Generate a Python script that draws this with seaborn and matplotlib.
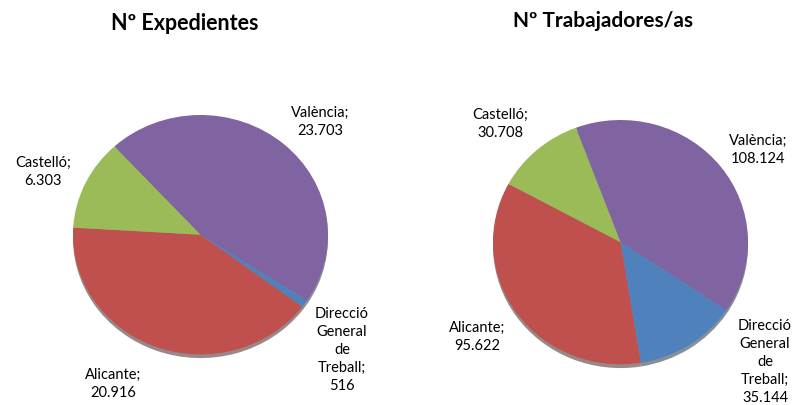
import numpy as np
import matplotlib
matplotlib.use("Agg")
import matplotlib.pyplot as plt
import seaborn as sns

# data
categories = ["València", "Direcció\nGeneral\nde\nTreball", "Alicante", "Castelló"]
expedientes = [23703, 516, 20916, 6303]
expedientes_lbl = ["23.703", "516", "20.916", "6.303"]
trabajadores = [108124, 35144, 95622, 30708]
trabajadores_lbl = ["108.124", "35.144", "95.622", "30.708"]

colors = ["#8064A2", "#4F81BD", "#C0504D", "#9BBB59"]

sns.set_theme(style="white")
plt.rcParams['font.family'] = ['Lato', 'DejaVu Sans']

W, H = 794, 406
fig = plt.figure(figsize=(W / 100, H / 100), dpi=100)
fig.patch.set_facecolor("white")


def px_axes(x0, y0, x1, y1):
    # pixel box (top-left origin) -> figure axes
    return fig.add_axes([x0 / W, 1 - y1 / H, (x1 - x0) / W, (y1 - y0) / H])


def draw_pie(ax, values, start, label_pos, value_lbls):
    ax.pie(values, colors=colors, startangle=start, counterclock=False,
           wedgeprops=dict(linewidth=0),
           shadow=dict(ox=0.0, oy=-0.022, shade=0.75))
    ax.set_aspect("auto")
    ax.set_xlim(-1, 1)
    ax.set_ylim(-1.03, 1)
    for name, val, (tx, ty) in zip(categories, value_lbls, label_pos):
        fx = tx / W
        fy = 1 - ty / H
        fig.text(fx, fy, f"{name};\n{val}", ha="center", va="center",
                 fontsize=10.5, color="black", linespacing=1.35)


ax1 = px_axes(73, 116, 328, 359)
draw_pie(ax1, expedientes, 132.5,
         [(320, 122), (342, 350), (113, 384), (43, 172)], expedientes_lbl)

ax2 = px_axes(493, 121, 748, 369)
draw_pie(ax2, trabajadores, 110.5,
         [(758, 150), (765, 362), (477, 337), (500, 124)], trabajadores_lbl)

fig.text(185 / W, 1 - 23 / H, "Nº Expedientes", ha="center", va="center",
         fontsize=15.5, fontweight="bold", color="black")
fig.text(603 / W, 1 - 21 / H, "Nº Trabajadores/as", ha="center", va="center",
         fontsize=15, fontweight="bold", color="black")

fig.savefig("out.png", dpi=100, facecolor="white")
